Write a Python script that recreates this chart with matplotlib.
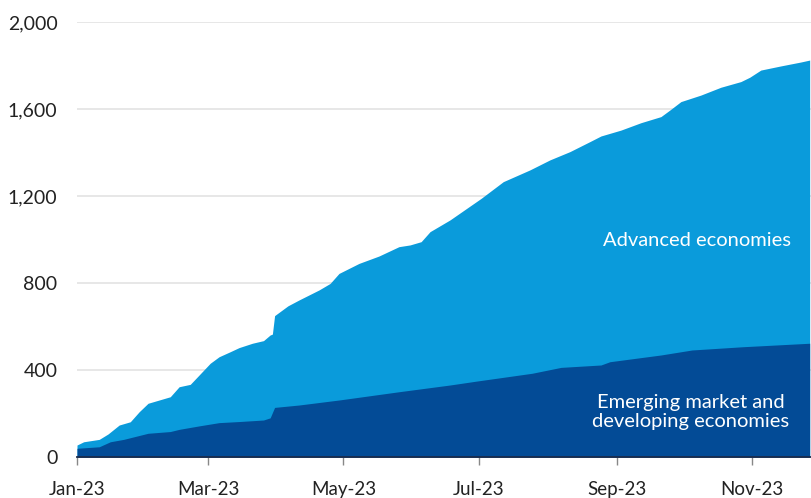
import matplotlib
matplotlib.use("Agg")
import matplotlib.pyplot as plt
import pandas as pd

# Cumulative count, all economies (top of the stack)
total_dates = [
    "2023-01-01", "2023-01-04", "2023-01-11", "2023-01-15", "2023-01-20",
    "2023-01-25", "2023-01-29", "2023-02-02", "2023-02-07", "2023-02-12",
    "2023-02-16", "2023-02-21", "2023-02-25", "2023-03-02", "2023-03-06",
    "2023-03-11", "2023-03-15", "2023-03-21", "2023-03-26", "2023-03-29",
    "2023-03-30", "2023-03-31", "2023-04-06", "2023-04-11", "2023-04-20",
    "2023-04-25", "2023-04-29", "2023-05-08", "2023-05-17", "2023-05-26",
    "2023-05-31", "2023-06-05", "2023-06-09", "2023-06-18", "2023-07-02",
    "2023-07-12", "2023-07-24", "2023-08-02", "2023-08-11", "2023-08-20",
    "2023-08-25", "2023-09-03", "2023-09-12", "2023-09-21", "2023-09-25",
    "2023-09-30", "2023-10-09", "2023-10-18", "2023-10-27", "2023-10-31",
    "2023-11-05", "2023-11-14", "2023-11-23", "2023-11-27",
]
total_values = [
    55, 70, 81, 106, 147,
    162, 208, 247, 262, 277,
    323, 334, 377, 431, 461,
    484, 503, 523, 535, 561,
    565, 650, 695, 722, 768,
    798, 844, 890, 924, 967,
    975, 990, 1036, 1090, 1189,
    1266, 1320, 1366, 1404, 1450,
    1476, 1503, 1537, 1565, 1595,
    1634, 1664, 1700, 1726, 1746,
    1779, 1798, 1816, 1825,
]

# Cumulative count, emerging market and developing economies
emde_dates = [
    "2023-01-01", "2023-01-11", "2023-01-16", "2023-01-22", "2023-02-02",
    "2023-02-12", "2023-02-16", "2023-02-25", "2023-03-06", "2023-03-15",
    "2023-03-26", "2023-03-29", "2023-03-31", "2023-04-11", "2023-04-29",
    "2023-05-26", "2023-06-18", "2023-06-30", "2023-07-25", "2023-08-07",
    "2023-08-25", "2023-08-29", "2023-09-21", "2023-10-05", "2023-10-28",
    "2023-11-27",
]
emde_values = [
    40, 47, 70, 81, 109,
    117, 127, 143, 158, 163,
    170, 180, 228, 239, 262,
    300, 331, 349, 385, 412,
    423, 438, 469, 492, 507,
    523,
]

y_ticks = [0, 400, 800, 1200, 1600, 2000]
x_tick_dates = ["2023-01-01", "2023-03-01", "2023-05-01",
                "2023-07-01", "2023-09-01", "2023-11-01"]
x_tick_labels = ["Jan-23", "Mar-23", "May-23", "Jul-23", "Sep-23", "Nov-23"]

LIGHT = "#0A9BDB"
DARK = "#034B96"
W, H = 811, 498

plt.rcParams["font.family"] = ["Lato", "DejaVu Sans"]

fig = plt.figure(figsize=(W / 100, H / 100), dpi=100)
ax = fig.add_axes([77 / W, 1 - 457 / H, 1 - 77 / W, (457 - 22) / H])

td = pd.to_datetime(total_dates)
ed = pd.to_datetime(emde_dates)

ax.fill_between(td, 0, total_values, color=LIGHT, linewidth=0, zorder=2)
ax.fill_between(ed, 0, emde_values, color=DARK, linewidth=0, zorder=3)

ax.set_ylim(0, 2000)
start = pd.Timestamp("2023-01-01")
ax.set_xlim(start, start + pd.Timedelta(days=330.6))

ax.set_yticks(y_ticks)
ax.set_yticklabels([f"{v:,}" for v in y_ticks])
ax.set_xticks(pd.to_datetime(x_tick_dates))
ax.set_xticklabels(x_tick_labels)

for v in y_ticks[1:]:
    ax.axhline(v, color="#E3E3E3", linewidth=1.2, zorder=1)

for s in ["top", "right", "left"]:
    ax.spines[s].set_visible(False)
ax.spines["bottom"].set_color("#1B2A4A")
ax.spines["bottom"].set_linewidth(1.3)
ax.spines["bottom"].set_zorder(5)

ax.tick_params(axis="y", length=0, pad=14, labelsize=14, labelcolor="#222222")
ax.tick_params(axis="x", length=6, width=1, color="#888888", pad=11,
               labelsize=13.5, labelcolor="#222222")

fig.text(697 / W, 1 - 240 / H, "Advanced economies", color="white",
         fontsize=14.5, ha="center", va="center", zorder=10)
fig.text(691 / W, 1 - 412 / H, "Emerging market and\ndeveloping economies",
         color="white", fontsize=14.5, ha="center", va="center",
         linespacing=1.15, zorder=10)

fig.savefig("out.png", dpi=100)
